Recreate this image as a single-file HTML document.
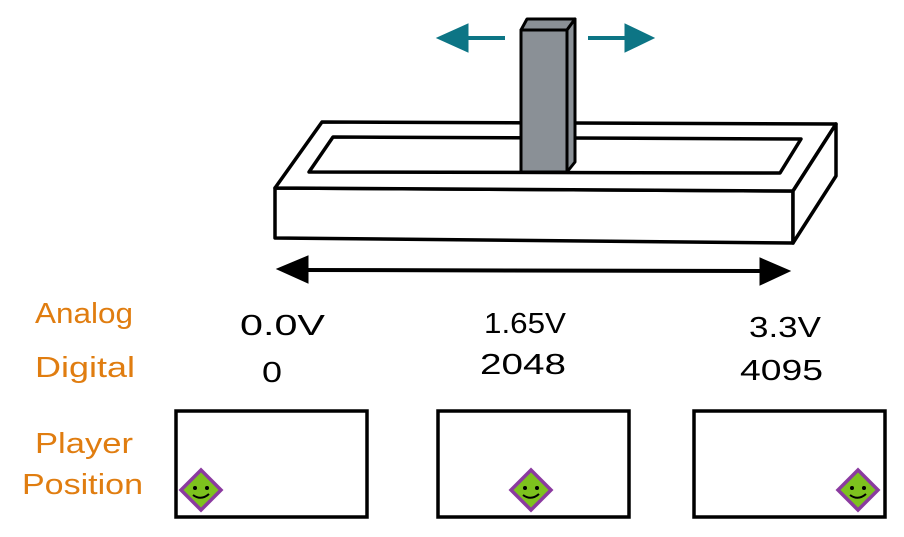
<!DOCTYPE html>
<html><head><style>
html,body{margin:0;padding:0;background:#fff;width:904px;height:537px;overflow:hidden}
</style></head><body>
<svg width="904" height="537" viewBox="0 0 904 537" xmlns="http://www.w3.org/2000/svg">
<g fill="none" stroke="#000" stroke-width="3.5" stroke-linejoin="round">
<polygon points="275,188 793,191 793,243 275,238" fill="#fff"/>
<polygon points="275,188 322,122 836,124 793,191" fill="#fff"/>
<polygon points="836,124 836,176 793,243 793,191" fill="#fff"/>
<polygon points="333,137 801,139 780,173 309,172" fill="#fff"/>
</g>
<g stroke="#000" stroke-width="3" stroke-linejoin="round">
<polygon points="521,30 527,19 575,19 567,30" fill="#8a9096"/>
<polygon points="567,30 575,19 575,162 567,172" fill="#8a9096"/>
<rect x="521" y="30" width="46" height="142" fill="#8a9096"/>
</g>
<g fill="#0d7585" stroke="#0d7585">
<line x1="505" y1="38" x2="455" y2="38" stroke-width="4"/>
<polygon points="437,38 468,24 468,52" stroke-width="1"/>
<line x1="588" y1="38" x2="635" y2="38" stroke-width="4"/>
<polygon points="654,38 625,24 625,52" stroke-width="1"/>
</g>
<g fill="#000" stroke="#000">
<line x1="300" y1="270" x2="765" y2="271" stroke-width="4"/>
<polygon points="277,269 308,256 308,283"/>
<polygon points="790,271 760,258 760,285"/>
</g>
<g font-family="Liberation Sans, sans-serif" font-size="29" fill="#e07d10" lengthAdjust="spacingAndGlyphs">
<text x="35" y="323" textLength="98" lengthAdjust="spacingAndGlyphs">Analog</text>
<text x="35" y="377" textLength="100" lengthAdjust="spacingAndGlyphs">Digital</text>
<text x="35" y="453" textLength="98" lengthAdjust="spacingAndGlyphs">Player</text>
<text x="22" y="494" textLength="121" lengthAdjust="spacingAndGlyphs">Position</text>
</g>
<g font-family="Liberation Sans, sans-serif" font-size="29" fill="#000">
<text x="240" y="335" textLength="85" lengthAdjust="spacingAndGlyphs">0.0V</text>
<text x="262" y="382" textLength="20" lengthAdjust="spacingAndGlyphs">0</text>
<text x="484" y="333" textLength="82" lengthAdjust="spacingAndGlyphs">1.65V</text>
<text x="480" y="374" textLength="86" lengthAdjust="spacingAndGlyphs">2048</text>
<text x="749" y="337" textLength="72" lengthAdjust="spacingAndGlyphs">3.3V</text>
<text x="740" y="380" textLength="83" lengthAdjust="spacingAndGlyphs">4095</text>
</g>
<g fill="#fff" stroke="#000" stroke-width="3.5">
<rect x="176" y="411" width="191" height="106"/>
<rect x="438" y="411" width="191" height="106"/>
<rect x="694" y="411" width="191" height="106"/>
</g>
<g id="s">
<polygon points="201,470 221,490 201,510 181,490" fill="#7dc21e" stroke="#8b3aa0" stroke-width="3.5"/>
<circle cx="195" cy="488" r="2" fill="#000"/><circle cx="207" cy="488" r="2" fill="#000"/>
<path d="M193,495 Q201,501 209,494" fill="none" stroke="#000" stroke-width="2"/>
</g>
<use href="#s" x="330"/>
<use href="#s" x="657"/>
</svg>
</body></html>
